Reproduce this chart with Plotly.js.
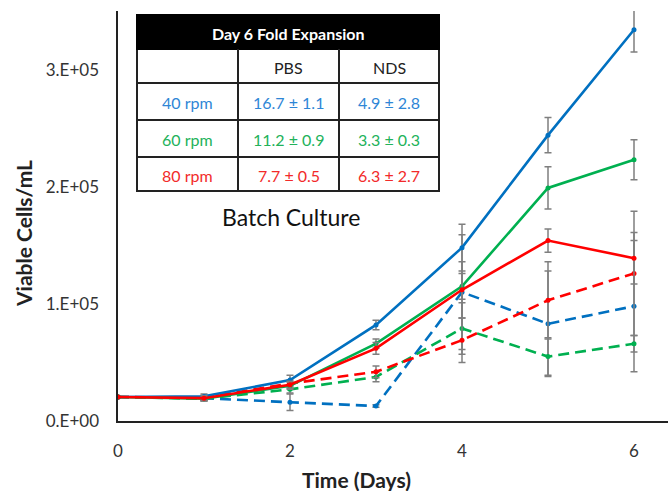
<!DOCTYPE html>
<html>
<head>
<meta charset="utf-8">
<script src="https://cdn.plot.ly/plotly-3.0.1.min.js"></script>
<style>html,body{margin:0;padding:0;background:#fff;}#chart{width:670px;height:491px;}</style>
</head>
<body>
<div id="chart"></div>
<script>
// ---- data ----
const days = [0, 1, 2, 3, 4, 5, 6];
const pbs40 = [20500, 21000, 35000, 82000, 148000, 244000, 334000];
const pbs60 = [20500, 19000, 30000, 66000, 115000, 199000, 223000];
const pbs80 = [20500, 19500, 31000, 62000, 112000, 154000, 139000];
const nds40 = [20500, 19500, 16000, 12800, 110000, 83000, 98000];
const nds60 = [20500, 19000, 27000, 37600, 79000, 55000, 66000];
const nds80 = [20500, 20000, 32000, 42000, 69000, 103000, 126000];
const errP40 = [0, 2000, 4000, 4000, 20000, 15000, 19000];
const errP60 = [0, 2000, 3000, 4000, 11000, 18000, 17000];
const errP80 = [0, 2000, 3000, 5000, 24000, 10000, 22000];
const errN40 = [0, 2000, 7000, 1000, 49000, 45000, 56000];
const errN60 = [0, 2000, 3000, 4000, 22000, 16000, 7000];
const errN80 = [0, 2000, 3000, 5000, 19000, 33000, 53000];

const yTickVals = [0, 100000, 200000, 300000];
const yTickText = ["0.E+00", "1.E+05", "2.E+05", "3.E+05"];
const xTickVals = [0, 2, 4, 6];

const tableTitle = "Day 6 Fold Expansion";
const colHeaders = ["", "PBS", "NDS"];
const rowLabels = ["40 rpm", "60 rpm", "80 rpm"];
const pbsFold = ["16.7 ± 1.1", "11.2 ± 0.9", "7.7 ± 0.5"];
const ndsFold = ["4.9 ± 2.8", "3.3 ± 0.3", "6.3 ± 2.7"];

// ---- styles ----
const BLUE = "#0070C0", GREEN = "#00B050", RED = "#FF0000";
const TBLUE = "#2E86D6", TGREEN = "#22B25A", TRED = "#F22A2A";
const FONT = "Lato, 'Open Sans', sans-serif";
const W = 670, H = 491;
const M = {l: 118, r: 2, t: 11, b: 70};
const PW = W - M.l - M.r, PH = H - M.t - M.b;
const px = x => (x - M.l) / PW;
const py = y => (H - M.b - y) / PH;

function tr(y, err, color, dashed) {
  return {
    x: days, y: y, type: "scatter", mode: "lines+markers",
    line: {color: color, width: 2.6, dash: dashed ? "11px,6px" : "solid"},
    marker: {color: color, size: 5},
    error_y: {type: "data", array: err, visible: true, color: "#7f7f7f", thickness: 1.5, width: 3.5},
    hoverinfo: "skip", showlegend: false
  };
}
const data = [
  tr(nds40, errN40, BLUE, true),
  tr(nds60, errN60, GREEN, true),
  tr(nds80, errN80, RED, true),
  tr(pbs40, errP40, BLUE, false),
  tr(pbs60, errP60, GREEN, false),
  tr(pbs80, errP80, RED, false)
];

// ---- table (shapes + annotations) ----
const colX = [137, 238, 339, 439];
const rowY = [15, 49, 83, 120, 157, 191];
const shapes = [];
const annotations = [];
const LC = "#222";
shapes.push({type: "rect", xref: "paper", yref: "paper", x0: px(colX[0]), x1: px(colX[3]), y0: py(rowY[5]), y1: py(rowY[0]), fillcolor: "#fff", line: {color: LC, width: 2}, layer: "above"});
shapes.push({type: "rect", xref: "paper", yref: "paper", x0: px(colX[0]), x1: px(colX[3]), y0: py(rowY[1]), y1: py(rowY[0]), fillcolor: "#000", line: {color: "#000", width: 2}, layer: "above"});
for (let i = 2; i < 5; i++) {
  shapes.push({type: "line", xref: "paper", yref: "paper", x0: px(colX[0]), x1: px(colX[3]), y0: py(rowY[i]), y1: py(rowY[i]), line: {color: LC, width: 2}, layer: "above"});
}
for (let j = 1; j < 3; j++) {
  shapes.push({type: "line", xref: "paper", yref: "paper", x0: px(colX[j]), x1: px(colX[j]), y0: py(rowY[1]), y1: py(rowY[5]), line: {color: LC, width: 2}, layer: "above"});
}
function cell(text, cx, cy, color, size, bold) {
  annotations.push({xref: "paper", yref: "paper", x: px(cx), y: py(cy), text: bold ? "<b>" + text + "</b>" : text,
    showarrow: false, xanchor: "center", yanchor: "middle", font: {family: FONT, size: size, color: color}});
}
cell(tableTitle, (colX[0] + colX[3]) / 2, (rowY[0] + rowY[1]) / 2 + 1, "#fff", 16, true);
for (let j = 0; j < 3; j++) cell(colHeaders[j], (colX[j] + colX[j + 1]) / 2, (rowY[1] + rowY[2]) / 2 + 1, "#222", 16, false);
const rowColors = [TBLUE, TGREEN, TRED];
for (let i = 0; i < 3; i++) {
  const cy = (rowY[i + 2] + rowY[i + 3]) / 2 + 1;
  cell(rowLabels[i], (colX[0] + colX[1]) / 2, cy, rowColors[i], 16, false);
  cell(pbsFold[i], (colX[1] + colX[2]) / 2, cy, rowColors[i], 16, false);
  cell(ndsFold[i], (colX[2] + colX[3]) / 2, cy, rowColors[i], 16, false);
}
annotations.push({xref: "paper", yref: "paper", x: px(291), y: py(217), text: "Batch Culture", showarrow: false,
  xanchor: "center", yanchor: "middle", font: {family: FONT, size: 23, color: "#111"}});
annotations.push({xref: "paper", yref: "paper", x: px(356), y: py(480), text: "<b>Time (Days)</b>", showarrow: false,
  xanchor: "center", yanchor: "middle", font: {family: FONT, size: 21, color: "#222"}});
annotations.push({xref: "paper", yref: "paper", x: px(23), y: py(234), text: "<b>Viable Cells/mL</b>", showarrow: false, textangle: -90,
  xanchor: "center", yanchor: "middle", font: {family: FONT, size: 21, color: "#222"}});

const layout = {
  width: W, height: H, margin: M,
  paper_bgcolor: "#fff", plot_bgcolor: "#fff",
  showlegend: false,
  xaxis: {range: [0, PW / 86], tickvals: xTickVals, ticks: "outside", ticklen: 14, tickcolor: "rgba(0,0,0,0)",
    showgrid: false, zeroline: false, showline: true, linecolor: "#222", linewidth: 1.6,
    tickfont: {family: FONT, size: 17, color: "#333"}},
  yaxis: {range: [0, 350000], tickvals: yTickVals, ticktext: yTickText, ticks: "outside", ticklen: 14, tickcolor: "rgba(0,0,0,0)",
    showgrid: false, zeroline: false, showline: true, linecolor: "#222", linewidth: 1.6,
    tickfont: {family: FONT, size: 17, color: "#333"}},
  shapes: shapes, annotations: annotations
};
Plotly.newPlot("chart", data, layout, {staticPlot: true, displayModeBar: false});
</script>
</body>
</html>
